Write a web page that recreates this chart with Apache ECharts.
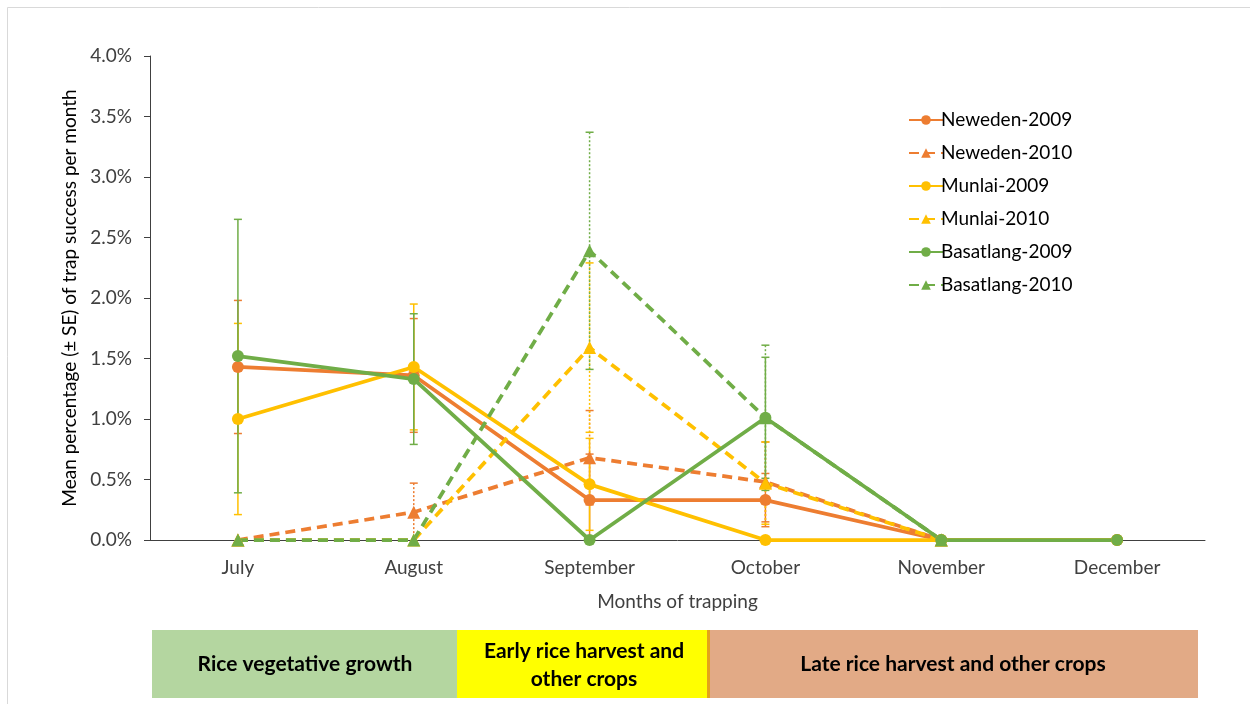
<!DOCTYPE html>
<html>
<head>
<meta charset="utf-8">
<title>Trap success per month</title>
<script src="https://cdn.jsdelivr.net/npm/echarts@6/dist/echarts.min.js"></script>
<style>
  html, body { margin: 0; padding: 0; background: #ffffff; }
  #chart { width: 1250px; height: 704px; }
</style>
</head>
<body>
<div id="chart"></div>
<script>
// Months of trapping (x categories)
const months = ['July', 'August', 'September', 'October', 'November', 'December'];

// Y axis ticks (percent)
const yTicks = [0, 0.5, 1, 1.5, 2, 2.5, 3, 3.5, 4];

// Mean trap success per month (%), with standard errors
const neweden2009 = [1.43, 1.36, 0.33, 0.33, 0, 0];
const neweden2009Se = [0.55, 0.47, 0.38, 0.22, 0, 0];
const neweden2010 = [0, 0.23, 0.68, 0.48, 0, null];
const neweden2010Se = [0, 0.24, 0.39, 0.33, 0, null];
const munlai2009 = [1.00, 1.43, 0.46, 0, 0, 0];
const munlai2009Se = [0.79, 0.52, 0.38, 0, 0, 0];
const munlai2010 = [0, 0, 1.59, 0.47, 0, null];
const munlai2010Se = [0, 0, 0.70, 0.34, 0, null];
const basatlang2009 = [1.52, 1.33, 0, 1.01, 0, 0];
const basatlang2009Se = [1.13, 0.54, 0, 0.50, 0, 0];
const basatlang2010 = [0, 0, 2.39, 1.01, 0, null];
const basatlang2010Se = [0, 0, 0.98, 0.60, 0, null];

// Crop-season bands shown under the axis
const seasons = ['Rice vegetative growth', 'Early rice harvest and\nother crops', 'Late rice harvest and other crops'];

const ORANGE = '#ed7d31', GOLD = '#ffc000', GREEN = '#70ad47';
const FONT = 'Lato, "Liberation Sans", sans-serif';

const seriesDefs = [
  { name: 'Neweden-2009', values: neweden2009, se: neweden2009Se, color: ORANGE, dashed: false },
  { name: 'Neweden-2010', values: neweden2010, se: neweden2010Se, color: ORANGE, dashed: true },
  { name: 'Munlai-2009', values: munlai2009, se: munlai2009Se, color: GOLD, dashed: false },
  { name: 'Munlai-2010', values: munlai2010, se: munlai2010Se, color: GOLD, dashed: true },
  { name: 'Basatlang-2009', values: basatlang2009, se: basatlang2009Se, color: GREEN, dashed: false },
  { name: 'Basatlang-2010', values: basatlang2010, se: basatlang2010Se, color: GREEN, dashed: true }
];

function errorBarRenderer(color, dotted) {
  return function (params, api) {
    const x = api.value(0), v = api.value(1), se = api.value(2);
    if (!se) return null;
    const hi = api.coord([x, v + se]);
    const lowVal = v - se;
    const lo = api.coord([x, Math.max(0, lowVal)]);
    const cw = 4;
    const style = { stroke: color, lineWidth: 1.5, lineDash: dotted ? [2, 2] : null };
    const children = [
      { type: 'line', shape: { x1: hi[0], y1: hi[1], x2: lo[0], y2: lo[1] }, style: style },
      { type: 'line', shape: { x1: hi[0] - cw, y1: hi[1], x2: hi[0] + cw, y2: hi[1] }, style: { stroke: color, lineWidth: 1.5 } }
    ];
    if (lowVal >= 0) {
      children.push({ type: 'line', shape: { x1: lo[0] - cw, y1: lo[1], x2: lo[0] + cw, y2: lo[1] }, style: { stroke: color, lineWidth: 1.5 } });
    }
    return { type: 'group', children: children };
  };
}

const series = [];
seriesDefs.forEach(function (d) {
  const errData = [];
  d.values.forEach(function (v, i) {
    if (v !== null && d.se[i]) errData.push([i, v, d.se[i]]);
  });
  series.push({
    type: 'custom',
    name: d.name + ' SE',
    renderItem: errorBarRenderer(d.color, d.dashed),
    data: errData,
    encode: { x: 0, y: 1 },
    silent: true,
    z: 2
  });
  series.push({
    type: 'line',
    name: d.name,
    data: d.values,
    symbol: d.dashed ? 'triangle' : 'circle',
    symbolSize: d.dashed ? 13 : 12,
    showSymbol: true,
    connectNulls: false,
    itemStyle: { color: d.color },
    lineStyle: { color: d.color, width: 3.75, type: d.dashed ? [10, 6] : 'solid', cap: 'butt' },
    z: 2,
    animation: false
  });
});

const chart = echarts.init(document.getElementById('chart'), null, { renderer: 'canvas' });
chart.setOption({
  animation: false,
  backgroundColor: '#ffffff',
  textStyle: { fontFamily: FONT },
  grid: { left: 150, right: 45, top: 56, bottom: 164 },
  legend: {
    data: seriesDefs.map(function (d) { return d.name; }),
    orient: 'vertical',
    left: 903,
    top: 105,
    itemWidth: 34,
    itemHeight: 12,
    itemGap: 13,
    textStyle: { fontFamily: FONT, fontSize: 19, color: '#000000', lineHeight: 20, padding: [0, 0, 0, -7] }
  },
  xAxis: {
    type: 'category',
    data: months,
    boundaryGap: true,
    axisLine: { lineStyle: { color: '#404040', width: 1 } },
    axisTick: { show: false },
    axisLabel: { color: '#404040', fontSize: 19, margin: 18, fontFamily: FONT },
    name: 'Months of trapping',
    nameLocation: 'middle',
    nameGap: 52,
    nameTextStyle: { color: '#404040', fontSize: 19, fontFamily: FONT },
    splitLine: { show: false }
  },
  yAxis: {
    type: 'value',
    min: yTicks[0],
    max: yTicks[yTicks.length - 1],
    interval: yTicks[1] - yTicks[0],
    axisLine: { show: true, lineStyle: { color: '#404040', width: 1 } },
    axisTick: { show: true, inside: false, length: 6, lineStyle: { color: '#404040' } },
    axisLabel: {
      color: '#404040', fontSize: 19, margin: 18, fontFamily: FONT,
      formatter: function (v) { return v.toFixed(1) + '%'; }
    },
    splitLine: { show: false },
    name: 'Mean percentage (\u00b1 SE) of trap success per month',
    nameLocation: 'middle',
    nameRotate: 90,
    nameGap: 67,
    nameTextStyle: { color: '#000000', fontSize: 19, fontFamily: FONT }
  },
  graphic: [
    { type: 'rect', shape: { x: 7.5, y: 7.5, width: 1260, height: 720 }, style: { fill: 'none', stroke: '#d9d9d9', lineWidth: 1 }, silent: true, z: -1 },
    { type: 'rect', shape: { x: 152, y: 630, width: 305, height: 68 }, style: { fill: '#b4d6a0' }, silent: true },
    { type: 'rect', shape: { x: 457, y: 630, width: 250, height: 68 }, style: { fill: '#ffff00' }, silent: true },
    { type: 'rect', shape: { x: 707, y: 630, width: 3, height: 68 }, style: { fill: '#e3a21a' }, silent: true },
    { type: 'rect', shape: { x: 710, y: 630, width: 488, height: 68 }, style: { fill: '#e2aa86' }, silent: true },
    { type: 'text', x: 305, y: 664, style: { text: seasons[0], fill: '#000000', font: 'bold 21px ' + FONT, align: 'center', verticalAlign: 'middle' }, silent: true },
    { type: 'text', x: 584, y: 665, style: { text: seasons[1], fill: '#000000', font: 'bold 21px ' + FONT, align: 'center', verticalAlign: 'middle', lineHeight: 28 }, silent: true },
    { type: 'text', x: 953, y: 664, style: { text: seasons[2], fill: '#000000', font: 'bold 21px ' + FONT, align: 'center', verticalAlign: 'middle' }, silent: true }
  ],
  series: series
});
</script>
</body>
</html>
